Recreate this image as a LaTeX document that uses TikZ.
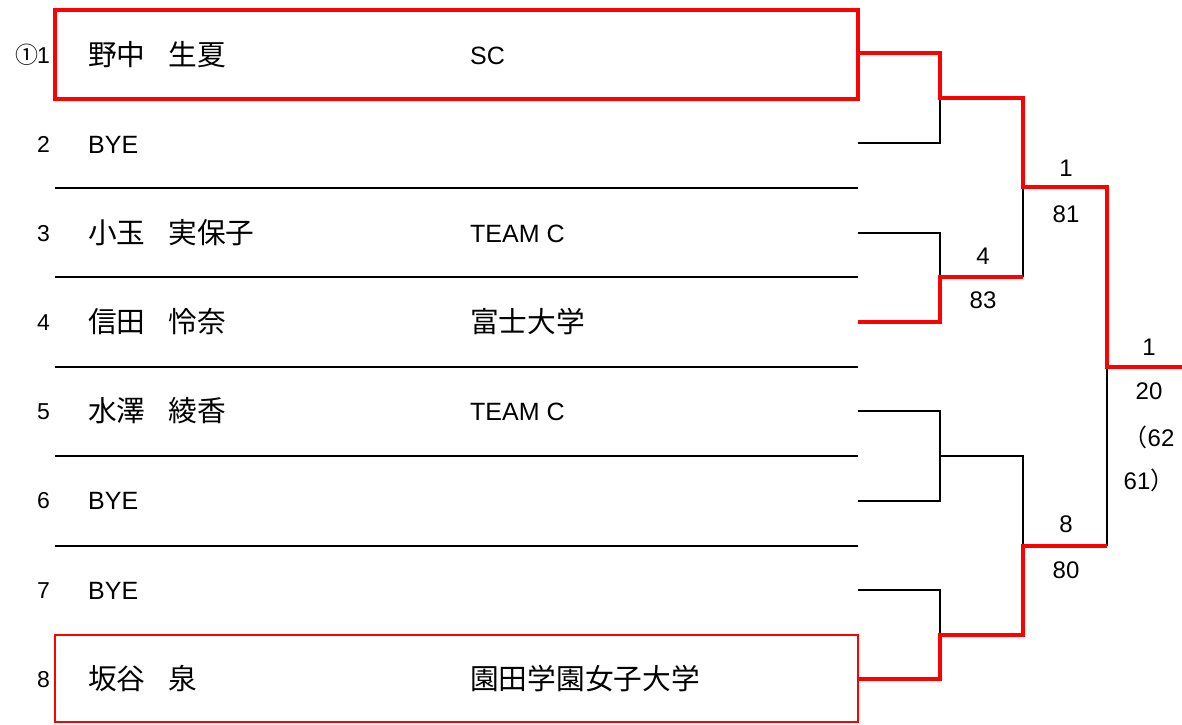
\documentclass[tikz,border=0pt]{standalone}
\usepackage{fontspec}
\setmainfont{Liberation Sans}
\newfontfamily\cjk{Noto Sans CJK JP}
\newcommand{\jp}[1]{{\fontsize{28.7}{31}\selectfont\cjk #1}}
\newcommand{\jsp}{\hspace{0.8em}}
\begin{document}
\begin{tikzpicture}[x=1pt,y=-1pt,
  blkline/.style={draw=black,line width=2.5pt},
  redline/.style={draw=red,line width=4pt},
  topbox/.style={draw=red,line width=4pt,minimum width=803pt,minimum height=89pt,inner sep=0pt},
  botbox/.style={draw=red,line width=2.5pt,minimum width=803pt,minimum height=87pt,inner sep=0pt},
  numtxt/.style={anchor=base east,inner sep=0pt,font=\fontsize{23}{25}\selectfont},
  ptxt/.style={anchor=base west,inner sep=0pt,font=\fontsize{25}{28}\selectfont},
  scoretxt/.style={inner sep=0pt,font=\fontsize{24}{28}\selectfont}]
\useasboundingbox (0,0) rectangle (1182,724);
% boxes
\node[topbox] (box1) at (456.5,54.5) {};
\node[botbox] (box8) at (456.5,678.5) {};
% row separators
\foreach \yy/\nm in {188/a,277/b,367/c,456/d,546/e}{
  \coordinate (sepL\nm) at (55,\yy);
  \coordinate (sepR\nm) at (858,\yy);
  \draw[blkline] (sepL\nm) -- (sepR\nm);
}
% numbers
\node[numtxt] (n1) at (50,63) {{\fontsize{23}{24}\selectfont\cjk ①}\kern-1pt1};
\node[numtxt] (n2) at (50,152) {2};
\node[numtxt] (n3) at (50,241) {3};
\node[numtxt] (n4) at (50,330) {4};
\node[numtxt] (n5) at (50,419) {5};
\node[numtxt] (n6) at (50,508) {6};
\node[numtxt] (n7) at (50,598) {7};
\node[numtxt] (n8) at (50,687) {8};
% names
\node[ptxt] (p1) at (88,65) {\jp{野中\jsp 生夏}};
\node[ptxt] (p2) at (88,153) {BYE};
\node[ptxt] (p3) at (88,243) {\jp{小玉\jsp 実保子}};
\node[ptxt] (p4) at (88,332) {\jp{信田\jsp 怜奈}};
\node[ptxt] (p5) at (88,421) {\jp{水澤\jsp 綾香}};
\node[ptxt] (p6) at (88,509) {BYE};
\node[ptxt] (p7) at (88,599) {BYE};
\node[ptxt] (p8) at (88,689) {\jp{坂谷\jsp 泉}};
% clubs
\node[ptxt] (c1) at (470,64) {SC};
\node[ptxt] (c3) at (470,242) {TEAM C};
\node[ptxt] (c4) at (470,332) {\jp{富士大学}};
\node[ptxt] (c5) at (470,420) {TEAM C};
\node[ptxt] (c8) at (470,689) {\jp{園田学園女子大学}};
% bracket coordinates
\coordinate (r2) at (858,143);
\coordinate (r3) at (858,233);
\coordinate (r4) at (858,322);
\coordinate (r5) at (858,411);
\coordinate (r6) at (858,501);
\coordinate (r7) at (858,590);
\coordinate (m12) at (940,98);
\coordinate (m34) at (940,277);
\coordinate (m56) at (940,456);
\coordinate (m78) at (940,635);
\coordinate (q1) at (1023,98);
\coordinate (q2) at (1023,277);
\coordinate (q3) at (1023,456);
\coordinate (q4) at (1023,635);
\coordinate (s1) at (1023,187);
\coordinate (s2) at (1023,546);
\coordinate (f1) at (1107,187);
\coordinate (f2) at (1107,546);
\coordinate (f) at (1107,367);
\coordinate (fin) at (1182,367);
\coordinate (b1) at (858,53);
% black bracket lines
\draw[blkline] (r2) -| (m12);
\draw[blkline] (r3) -| (m34);
\draw[blkline] (q2) -- (s1);
\draw[blkline] (r5) -| (m56);
\draw[blkline] (r6) -| (m56);
\draw[blkline] (m56) -- (q3) -- (s2);
\draw[blkline] (r7) -| (m78);
\draw[blkline] (f2) -- (f);
% red winner path
\draw[redline] (b1) -| (m12) -- (q1) |- (f1) |- (fin);
\draw[redline] (r4) -| (m34) -- (q2);
\draw[redline] (box8.east) -| (m78) -- (q4) |- (f2);
% scores
\node[scoretxt] (w1) at (1066,168) {1};
\node[scoretxt] (w1s) at (1066,214) {81};
\node[scoretxt] (w2) at (983,256) {4};
\node[scoretxt] (w2s) at (983,300) {83};
\node[scoretxt] (w3) at (1066,524) {8};
\node[scoretxt] (w3s) at (1066,570) {80};
\node[scoretxt] (w4) at (1149,347) {1};
\node[scoretxt] (w4s) at (1149,391) {20};
\node[scoretxt] (w4t) at (1149,437) {{\cjk （}62};
\node[scoretxt] (w4u) at (1149,480) {61{\cjk ）}};
\end{tikzpicture}
\end{document}
